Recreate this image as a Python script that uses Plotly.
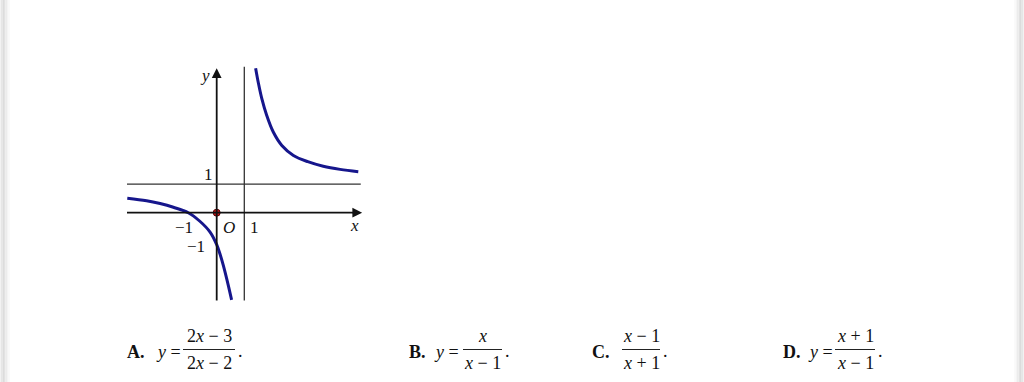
import plotly.graph_objects as go

# ---- data ----
upper_x = [1.41, 1.51, 1.63, 1.81, 2.05, 2.36, 2.78, 3.30, 3.86, 4.47, 5.13]
upper_y = [5.07, 4.55, 4.02, 3.42, 2.83, 2.36, 2.01, 1.79, 1.63, 1.52, 1.44]
lower_x = [-3.24, -2.54, -2.05, -1.57, -1.03, -0.61, -0.24, 0.00, 0.12, 0.24, 0.42, 0.54]
lower_y = [0.51, 0.42, 0.32, 0.19, 0.00, -0.30, -0.68, -1.12, -1.45, -1.85, -2.55, -3.06]
x_extent = [-3.25, 5.27]
y_extent = [-3.08, 5.07]
asym_x = 1
asym_y = 1
option_letters = ["A.", "B.", "C.", "D."]
option_prefix = ["<i>y</i> =", "<i>y</i> =", "", "<i>y</i> ="]
option_num = ["2<i>x</i> − 3", "<i>x</i>", "<i>x</i> − 1", "<i>x</i> + 1"]
option_den = ["2<i>x</i> − 2", "<i>x</i> − 1", "<i>x</i> + 1", "<i>x</i> − 1"]

W, H = 1024, 382
ox, oy = 216.7, 212.7      # pixel of origin
sx, sy = 27.6, 28.5        # pixels per unit
xr = [-ox / sx, (W - ox) / sx]
yr = [-(H - oy) / sy, oy / sy]

def P(px, py):
    return px / W, 1 - py / H

SERIF = "Liberation Serif"
CURVE = "#16168c"

fig = go.Figure()
for xs, ys in [(upper_x, upper_y), (lower_x, lower_y)]:
    fig.add_trace(go.Scatter(x=xs, y=ys, mode="lines",
                             line=dict(color=CURVE, width=3, shape="spline", smoothing=1.0),
                             hoverinfo="skip", showlegend=False))
# origin dot
fig.add_trace(go.Scatter(x=[0], y=[0], mode="markers",
                         marker=dict(size=7, color="#c01818", line=dict(color="#5a0000", width=1)),
                         hoverinfo="skip", showlegend=False))

shapes = []
# asymptotes
shapes.append(dict(type="line", xref="x", yref="y", x0=x_extent[0], x1=x_extent[1] - 0.05, y0=asym_y, y1=asym_y,
                   line=dict(color="#333", width=1.3)))
shapes.append(dict(type="line", xref="x", yref="y", x0=asym_x, x1=asym_x, y0=y_extent[0], y1=y_extent[1] + 0.05,
                   line=dict(color="#333", width=1.3)))
# axes
shapes.append(dict(type="line", xref="x", yref="y", x0=x_extent[0], x1=x_extent[1] - 0.2, y0=0, y1=0,
                   line=dict(color="#111", width=1.8)))
shapes.append(dict(type="line", xref="x", yref="y", x0=0, x1=0, y0=y_extent[0], y1=y_extent[1] - 0.2,
                   line=dict(color="#111", width=1.8)))
# gray side bands
for i, c in enumerate(["#e6e6e6", "#dcdcdc", "#e2e2e2", "#ececec", "#f4f4f4", "#fafafa"]):
    shapes.append(dict(type="rect", xref="paper", yref="paper", x0=(1 + i * 1.5) / W, x1=(2.5 + i * 1.5) / W,
                       y0=0, y1=1, line=dict(width=0), fillcolor=c, layer="below"))
    shapes.append(dict(type="rect", xref="paper", yref="paper", x0=1 - (2.5 + i * 1.5) / W, x1=1 - (1 + i * 1.5) / W,
                       y0=0, y1=1, line=dict(width=0), fillcolor=c, layer="below"))
shapes.append(dict(type="rect", xref="paper", yref="paper", x0=0, x1=1 / W, y0=0, y1=1,
                   line=dict(width=0), fillcolor="#f2f2f2", layer="below"))
shapes.append(dict(type="rect", xref="paper", yref="paper", x0=1 - 1 / W, x1=1, y0=0, y1=1,
                   line=dict(width=0), fillcolor="#f2f2f2", layer="below"))

ann = []
# arrowheads
ann.append(dict(x=x_extent[1], y=0, ax=-11, ay=0, xref="x", yref="y", axref="pixel", ayref="pixel",
                showarrow=True, arrowhead=2, arrowsize=1.3, arrowwidth=1.5, arrowcolor="#111", text=""))
ann.append(dict(x=0, y=y_extent[1], ax=0, ay=11, xref="x", yref="y", axref="pixel", ayref="pixel",
                showarrow=True, arrowhead=2, arrowsize=1.3, arrowwidth=1.5, arrowcolor="#111", text=""))

def lab(text, x, y, size=17, xa="center"):
    ann.append(dict(x=x, y=y, xref="x", yref="y", text=text, showarrow=False, xanchor=xa, yanchor="middle",
                    font=dict(family=SERIF, size=size, color="#111")))

lab("<i>y</i>", (205 - ox) / sx, (oy - 75) / sy)
lab("<i>x</i>", (354 - ox) / sx, (oy - 225) / sy)
lab("<i>O</i>", (229 - ox) / sx, (oy - 227) / sy)
lab("1", (254 - ox) / sx, (oy - 227) / sy)
lab("−1", (184 - ox) / sx, (oy - 227) / sy)
lab("−1", (196 - ox) / sx, (oy - 246) / sy)
lab("1", (208 - ox) / sx, (oy - 174) / sy)

def pt(text, px, py, size=18, xa="center"):
    x, y = P(px, py)
    ann.append(dict(x=x, y=y, xref="paper", yref="paper", text=text, showarrow=False, xanchor=xa,
                    yanchor="middle", font=dict(family=SERIF, size=size, color="#111")))

letter_x = [136, 417, 601, 792]
prefix_x = [168, 446, 0, 820]
bar_x = [(183, 235), (463, 502), (622, 660), (835, 875)]
for i in range(4):
    pt("<b>" + option_letters[i] + "</b>", letter_x[i], 352)
    if option_prefix[i]:
        pt(option_prefix[i], prefix_x[i], 352)
    cx = (bar_x[i][0] + bar_x[i][1]) / 2
    pt(option_num[i], cx, 336)
    pt(option_den[i], cx, 363)
    x0, y0 = P(bar_x[i][0], 349.5)
    x1, _ = P(bar_x[i][1], 349.5)
    shapes.append(dict(type="line", xref="paper", yref="paper", x0=x0, x1=x1, y0=y0, y1=y0,
                       line=dict(color="#222", width=1)))
    pt(".", bar_x[i][1] + 5, 351)

fig.update_layout(
    width=W, height=H, margin=dict(l=0, r=0, t=0, b=0),
    paper_bgcolor="white", plot_bgcolor="white",
    xaxis=dict(range=xr, visible=False, fixedrange=True),
    yaxis=dict(range=yr, visible=False, fixedrange=True),
    shapes=shapes, annotations=ann, showlegend=False,
)
fig.write_html("out.html", config={"displayModeBar": False})
